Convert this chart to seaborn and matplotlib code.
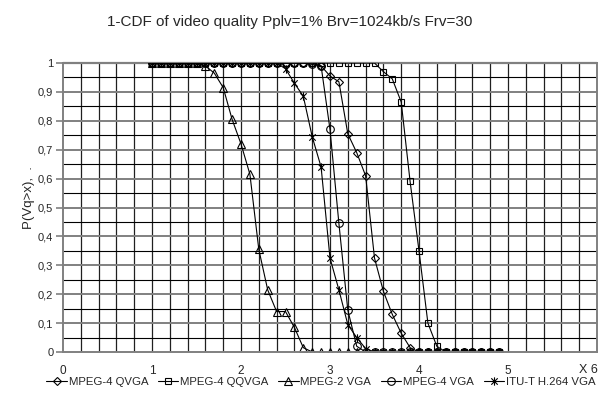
import matplotlib
matplotlib.use("Agg")
import matplotlib.pyplot as plt
from matplotlib.path import Path
from matplotlib.ticker import FixedLocator
import numpy as np
import pandas as pd
import seaborn as sns

x_vals = [1.0, 1.1, 1.2, 1.3, 1.4, 1.5, 1.6, 1.7, 1.8, 1.9,
          2.0, 2.1, 2.2, 2.3, 2.4, 2.5, 2.6, 2.7, 2.8, 2.9,
          3.0, 3.1, 3.2, 3.3, 3.4, 3.5, 3.6, 3.7, 3.8, 3.9,
          4.0, 4.1, 4.2, 4.3, 4.4, 4.5, 4.6, 4.7, 4.8, 4.9]

mpeg4_qvga = [1.0] * 19 + [0.99, 0.955, 0.935, 0.755, 0.69, 0.61, 0.325, 0.21, 0.13, 0.065, 0.015] + [0.0] * 10
mpeg4_qqvga = [1.0] * 26 + [0.97, 0.945, 0.865, 0.59, 0.35, 0.10, 0.02] + [0.0] * 7
mpeg2_vga = [1.0] * 6 + [0.99, 0.965, 0.915, 0.805, 0.72, 0.615, 0.355, 0.215, 0.14, 0.14, 0.085, 0.015] + [0.0] * 22
mpeg4_vga = [1.0] * 18 + [0.995, 0.99, 0.77, 0.445, 0.145, 0.02] + [0.0] * 16
h264_vga = [1.0] * 15 + [0.98, 0.93, 0.885, 0.745, 0.64, 0.325, 0.215, 0.095, 0.05, 0.012] + [0.0] * 15

series_names = ["MPEG-4 QVGA", "MPEG-4 QQVGA", "MPEG-2 VGA", "MPEG-4 VGA", "ITU-T H.264 VGA"]
series_values = [mpeg4_qvga, mpeg4_qqvga, mpeg2_vga, mpeg4_vga, h264_vga]

x_tick_labels = ["0", "1", "2", "3", "4", "5", ""]
y_tick_labels = ["0", "0,1", "0,2", "0,3", "0,4", "0,5", "0,6", "0,7", "0,8", "0,9", "1"]

# Excel-style asterisk marker: x plus a vertical bar
star = Path([(-1, -1), (1, 1), (-1, 1), (1, -1), (0, -1.3), (0, 1.3)],
            [Path.MOVETO, Path.LINETO, Path.MOVETO, Path.LINETO, Path.MOVETO, Path.LINETO])
markers = ["D", "s", "^", "o", star]
sizes = [4.5, 5, 5.5, 5.5, 6]

sns.set_style("white")
plt.rcParams["font.family"] = ["Liberation Sans", "DejaVu Sans"]

fig = plt.figure(figsize=(6.08, 3.99), dpi=100)
ax = fig.add_axes([63 / 608, 47 / 399, 534 / 608, 289 / 399])

for name, vals, mk, ms in zip(series_names, series_values, markers, sizes):
    df = pd.DataFrame({"x": x_vals, "y": vals})
    sns.lineplot(data=df, x="x", y="y", ax=ax, color="black", linewidth=0.8,
                 marker=mk, markersize=ms, markerfacecolor="none",
                 markeredgecolor="black", markeredgewidth=0.8, label=name)

ax.set_xlim(0, 6)
ax.set_ylim(0, 1)

# gridlines: verticals every 0.2, horizontals every 0.05
for gx in np.arange(0.2, 6.0, 0.2):
    ax.axvline(gx, color="#202020", linewidth=0.9, zorder=0)
for i, gy in enumerate(np.arange(0.05, 1.0, 0.05)):
    if i % 2 == 0:
        ax.axhline(gy, color="black", linewidth=0.8, zorder=0)
    else:
        ax.axhline(gy, color="#808080", linewidth=1.4, zorder=0)
ax.axhline(1.0, color="#808080", linewidth=1.6, zorder=0, clip_on=False)

for side in ["left", "bottom", "right"]:
    ax.spines[side].set_color("#808080")
    ax.spines[side].set_linewidth(1.4)
ax.spines["top"].set_visible(False)

ax.xaxis.set_major_locator(FixedLocator([0, 1, 2, 3, 4, 5, 6]))
ax.set_xticklabels(x_tick_labels)
ax.yaxis.set_major_locator(FixedLocator([i / 10 for i in range(11)]))
ax.set_yticklabels(y_tick_labels)
ax.tick_params(axis="x", length=0, labelsize=8.5, pad=9)
ax.tick_params(axis="y", length=5, width=1.2, color="#808080", labelsize=8, pad=2, left=True)
ax.set_xlabel("")
ax.set_ylabel("")
fig.text(598 / 608, 1 - 370 / 399, "X 6", ha="right", va="center", fontsize=9)

fig.text(290 / 608, 1 - 22 / 399, "1-CDF of video quality Pplv=1% Brv=1024kb/s Frv=30",
         ha="center", va="center", fontsize=11)
fig.text(29 / 608, 1 - 198 / 399, "P(Vq>x),  .", rotation=90, ha="center", va="center", fontsize=9.5)

ax.legend(loc="center", ncol=5, frameon=False, fontsize=8.2, handlelength=1.8,
          handletextpad=0.15, columnspacing=0.85, borderaxespad=0, borderpad=0)
leg = ax.get_legend()
leg.set_bbox_to_anchor((321 / 608, 1 - 382 / 399), transform=fig.transFigure)

fig.savefig("out.png", dpi=100)
